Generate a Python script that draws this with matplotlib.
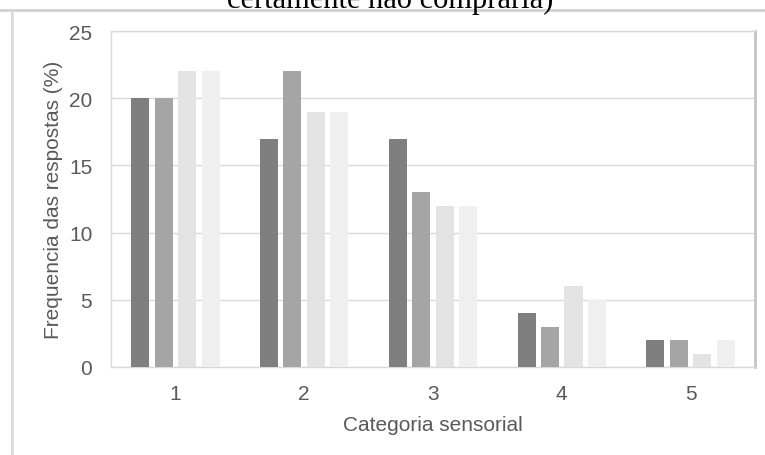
import numpy as np
import matplotlib
matplotlib.use("Agg")
import matplotlib.pyplot as plt
from matplotlib.lines import Line2D

plt.rcParams["font.family"] = ["Liberation Sans", "DejaVu Sans"]

# responses per sensory category, one list per series
categories = ["1", "2", "3", "4", "5"]
serie_1 = [20, 17, 17, 4, 2]
serie_2 = [20, 22, 13, 3, 2]
serie_3 = [22, 19, 12, 6, 1]
serie_4 = [22, 19, 12, 5, 2]
series = [serie_1, serie_2, serie_3, serie_4]
colors = ["#7f7f7f", "#a6a5a6", "#e3e3e3", "#efefef"]

title_tail = "certamente não compraria)"
xlabel = "Categoria sensorial"
ylabel = "Frequencia das respostas (%)"

text_color = "#595959"
grid_color = "#d9d9d9"

fig = plt.figure(figsize=(7.65, 4.56), dpi=100)
ax = fig.add_axes([0.1451, 0.193, 0.8418, 0.7368])

x = np.arange(len(categories)) + 0.5
step = 0.182
width = 0.14
for i, (vals, c) in enumerate(zip(series, colors)):
    ax.bar(x + (i - 1.5) * step, vals, width=width, color=c, zorder=3)

ax.set_xlim(0, len(categories))
ax.set_ylim(0, 25)
ax.set_yticks(range(0, 26, 5))
ax.set_xticks(x)
ax.set_xticklabels(categories)
ax.yaxis.grid(True, color=grid_color, linewidth=1.0, zorder=0)
ax.tick_params(axis="both", length=0, labelsize=15, colors=text_color)
ax.tick_params(axis="y", pad=13.5)
ax.tick_params(axis="x", pad=12)

ax.set_xlabel(xlabel, fontsize=15, color=text_color, labelpad=9)
ax.set_ylabel(ylabel, fontsize=15, color=text_color, labelpad=4)

for side in ["left", "top", "bottom"]:
    ax.spines[side].set_color(grid_color)
    ax.spines[side].set_linewidth(1.0)
ax.spines["right"].set_color("#c4c4c4")
ax.spines["right"].set_linewidth(2.0)

# outer chart frame (top and left edges) and the clipped title above it
fig.add_artist(Line2D([0, 1], [1 - 10.5 / 456, 1 - 10.5 / 456],
                      transform=fig.transFigure, color="#d0d0d0", linewidth=2))
fig.add_artist(Line2D([12 / 765, 12 / 765], [0, 1 - 10.5 / 456],
                      transform=fig.transFigure, color="#d9d9d9", linewidth=2))
fig.text(390 / 765, 1 - 8 / 456, title_tail, ha="center", va="baseline",
         fontsize=22, family=["Liberation Serif", "DejaVu Serif"], color="black")

fig.savefig("out.png", dpi=100)
